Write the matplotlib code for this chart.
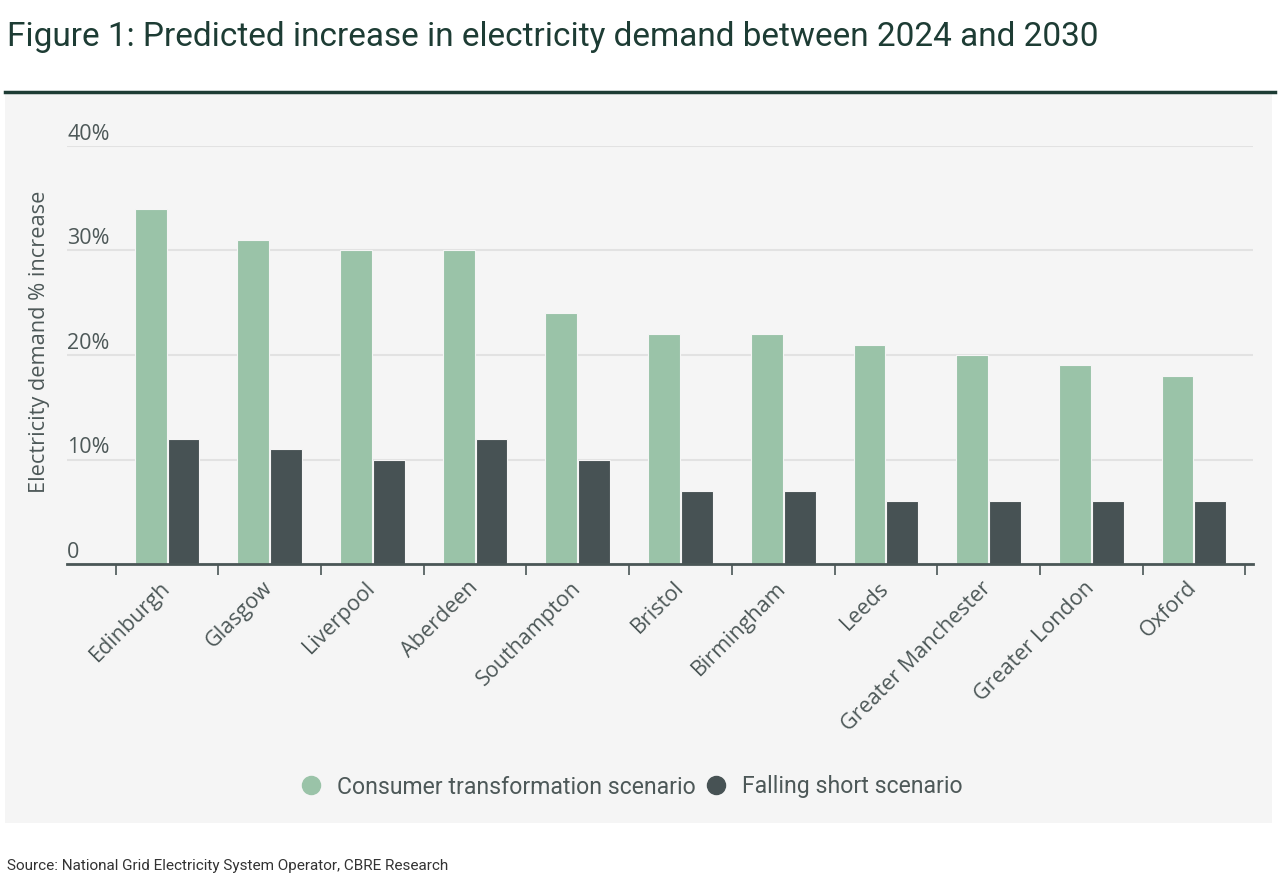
import matplotlib
matplotlib.use("Agg")
import matplotlib.pyplot as plt
import matplotlib.transforms as mtransforms
from matplotlib.lines import Line2D
from matplotlib.patches import Rectangle
import numpy as np

cities = ["Edinburgh", "Glasgow", "Liverpool", "Aberdeen", "Southampton", "Bristol",
          "Birmingham", "Leeds", "Greater Manchester", "Greater London", "Oxford"]
consumer = [34, 31, 30, 30, 24, 22, 22, 21, 20, 19, 18]
falling = [12, 11, 10, 12, 10, 7, 7, 6, 6, 6, 6]
yticks = [0, 10, 20, 30, 40]
ytick_labels = ["0", "10%", "20%", "30%", "40%"]

GREEN = "#9ac3a8"
DARK = "#475254"
TEXT = "#4d5858"
TITLE = "#1d3c34"
PANEL = "#f5f5f5"
AXFONT = "Open Sans"

W, H = 1280, 891
fig = plt.figure(figsize=(W / 100, H / 100), dpi=100)
fig.patch.set_facecolor("white")

# gray panel and top rule
fig.patches.append(Rectangle((5 / W, 1 - 823 / H), (1272 - 5) / W, (823 - 94) / H,
                             transform=fig.transFigure, facecolor=PANEL, edgecolor="none", zorder=-10))
fig.lines.append(Line2D([5 / W, 1275 / W], [1 - 92 / H, 1 - 92 / H], transform=fig.transFigure,
                        color=TITLE, lw=2.5, zorder=-5))

fig.text(7 / W, 1 - 37 / H, "Figure 1: Predicted increase in electricity demand between 2024 and 2030",
         fontsize=24, color=TITLE, family="Roboto", va="center", ha="left")
fig.text(7 / W, 1 - 866 / H, "Source: National Grid Electricity System Operator, CBRE Research",
         fontsize=11, color="#333333", family="Roboto", va="center", ha="left")

left, right = 67 / W, 1253 / W
bottom, top = 1 - 564 / H, 1 - 146 / H
ax = fig.add_axes([left, bottom, right - left, top - bottom])
ax.set_facecolor("none")
ax.set_zorder(2)

x = np.arange(len(cities))
bw = 0.31
ax.bar(x - 0.16, consumer, width=bw, color=GREEN, edgecolor="#f5f5f5", linewidth=0.8, zorder=3)
ax.bar(x + 0.16, falling, width=bw, color=DARK, edgecolor="#f5f5f5", linewidth=0.8, zorder=3)

ax.set_xlim(-0.974, 10.575)
ax.set_ylim(0, 40)

for s in ["top", "right", "left"]:
    ax.spines[s].set_visible(False)
ax.spines["bottom"].set_color("#4a5656")
ax.spines["bottom"].set_linewidth(2)
ax.spines["bottom"].set_zorder(4)

ax.set_yticks(yticks)
ax.set_yticklabels(ytick_labels)
ax.yaxis.grid(True, color="#e2e2e2", lw=1.5, zorder=1)
ax.set_axisbelow(True)
ax.tick_params(axis="y", length=0, pad=0, labelsize=15.5, labelcolor=TEXT)
offset = mtransforms.ScaledTranslation(0, 1 / 72, fig.dpi_scale_trans)
for lab in ax.get_yticklabels():
    lab.set_horizontalalignment("left")
    lab.set_verticalalignment("bottom")
    lab.set_family(AXFONT)
    lab.set_transform(lab.get_transform() + offset)

ax.set_xticks(np.arange(len(cities) + 1) - 0.5)
ax.set_xticklabels([])
ax.tick_params(axis="x", which="major", length=8, width=1.2, color="#4a5656", direction="out")
ax.set_xticks(x, minor=True)
ax.set_xticklabels(cities, minor=True, rotation=45, ha="right", va="center", rotation_mode="anchor",
                   fontsize=15.5, color=TEXT, family=AXFONT)
ax.tick_params(axis="x", which="minor", length=0, pad=15)

fig.text(40 / W, 1 - 342 / H, "Electricity demand % increase", rotation=90, fontsize=15.7,
         color=TEXT, family=AXFONT, ha="center", va="center")

handles = [Line2D([], [], marker="o", ls="none", markersize=13, color=GREEN),
           Line2D([], [], marker="o", ls="none", markersize=13, color=DARK)]
leg = fig.legend(handles, ["Consumer transformation scenario", "Falling short scenario"],
                 loc="center", bbox_to_anchor=(631 / W, 1 - 787 / H), ncol=2, frameon=False,
                 prop={"family": "Roboto", "size": 16.6}, handletextpad=0.6, columnspacing=0.4,
                 handlelength=1.0)
for t in leg.get_texts():
    t.set_color(TEXT)

fig.savefig("out.png", dpi=100, facecolor="white")
